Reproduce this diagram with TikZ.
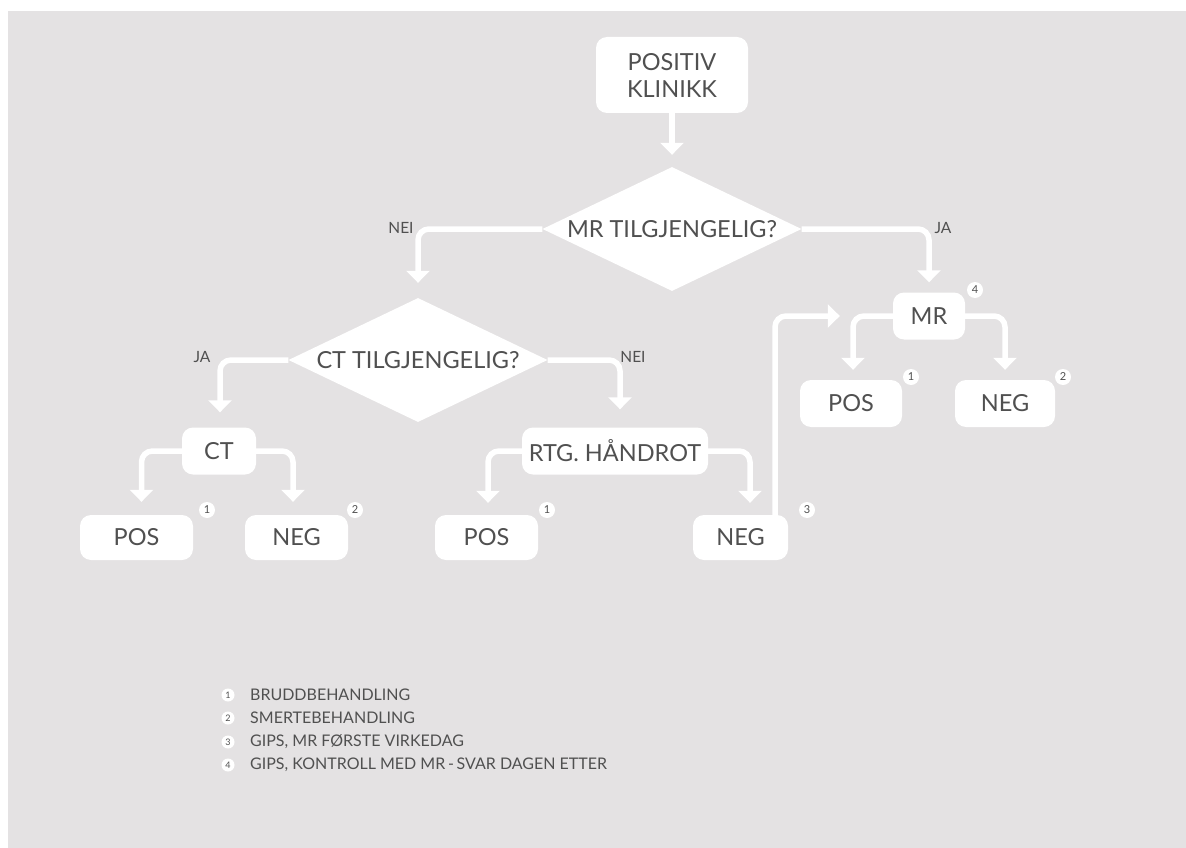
\documentclass[tikz,border=0pt]{standalone}
\usepackage{fontspec}
\setmainfont{Lato}
\usetikzlibrary{shapes.geometric,arrows.meta}
\definecolor{bg}{HTML}{E4E2E3}
\definecolor{ink}{HTML}{505050}
\begin{document}
\begin{tikzpicture}[x=1pt,y=-1pt,
  box/.style={fill=white, rounded corners=11pt, text=ink, font=\fontsize{23.5}{27}\selectfont, align=center, inner sep=0pt},
  dia/.style={diamond, fill=white, inner sep=0pt, minimum width=259pt, minimum height=124pt},
  dtext/.style={text=ink, font=\fontsize{23.5}{27}\selectfont, inner sep=0pt},
  lab/.style={text=ink, font=\fontsize{15.5}{17}\selectfont, inner sep=0pt},
  conn/.style={draw=white, line width=5.5pt, rounded corners=11pt, -{Triangle[width=23pt,length=12pt]}},
  num/.style={circle, fill=white, text=ink, inner sep=0pt, minimum size=16pt, font=\fontsize{11}{11}\selectfont},
  lnum/.style={circle, fill=white, text=ink, inner sep=0pt, minimum size=13pt, font=\fontsize{9}{9}\selectfont},
  legend/.style={text=ink, anchor=west, font=\fontsize{16}{18}\selectfont, inner sep=0pt}
]
\fill[white] (0,0) rectangle (1186,848);
\useasboundingbox (0,0) rectangle (1186,848);
\fill[bg] (8,11) rectangle (1186,848);

% boxes
\node[box, minimum width=152pt, minimum height=76pt] (pk) at (672,75) {POSITIV\\KLINIKK};
\node[dia] (mrd) at (672,229) {};
\node[dtext] (mrdt) at (mrd) {MR TILGJENGELIG?};
\node[dia] (ctd) at (418,360) {};
\node[dtext] (ctdt) at (ctd) {CT TILGJENGELIG?};
\node[box, minimum width=74pt, minimum height=47pt] (ct) at (219,451) {CT};
\node[box, minimum width=186pt, minimum height=47pt] (rtg) at (615,451) {RTG. HÅNDROT};
\node[box, minimum width=72pt, minimum height=47pt] (mr) at (929,316) {MR};
\node[box, minimum width=113pt, minimum height=45pt] (pos1) at (136.5,537.5) {POS};
\node[box, minimum width=103pt, minimum height=45pt] (neg1) at (296.5,537.5) {NEG};
\node[box, minimum width=103pt, minimum height=45pt] (pos2) at (486.5,537.5) {POS};
\node[box, minimum width=95pt, minimum height=45pt] (neg2) at (740.5,537.5) {NEG};
\node[box, minimum width=102pt, minimum height=47pt] (pos3) at (851,403.5) {POS};
\node[box, minimum width=100pt, minimum height=47pt] (neg3) at (1005,403.5) {NEG};

% connectors
\draw[conn, shorten >=12pt] (pk.south) -- (mrd.north);
\draw[conn] (mrd.west) -| ([yshift=15pt]ctd.north);
\draw[conn] (mrd.east) -| ([yshift=10pt]mr.north);
\draw[conn] (ctd.west) -| ([xshift=1pt,yshift=15pt]ct.north);
\draw[conn] (ctd.east) -| ([xshift=5pt,yshift=18pt]rtg.north);
\draw[conn] (ct.west) -| ([xshift=5pt,yshift=13pt]pos1.north);
\draw[conn] (ct.east) -| ([xshift=-3.5pt,yshift=13pt]neg1.north);
\draw[conn] (rtg.west) -| ([xshift=1.5pt,yshift=12pt]pos2.north);
\draw[conn] (rtg.east) -| ([xshift=9.5pt,yshift=12pt]neg2.north);
\draw[conn] (mr.west) -| ([xshift=2pt,yshift=10pt]pos3.north);
\draw[conn] (mr.east) -| ([yshift=10pt]neg3.north);
\draw[conn] ([xshift=34.5pt]neg2.north) |- ([xshift=-53pt]mr.west);

% branch labels
\node[lab] (l1) at (401,228) {NEI};
\node[lab] (l2) at (943,228) {JA};
\node[lab] (l3) at (202,357) {JA};
\node[lab] (l4) at (633,357) {NEI};

% footnote markers
\node[num] (n1a) at (207,510) {1};
\node[num] (n2a) at (355,510) {2};
\node[num] (n1b) at (547,510) {1};
\node[num] (n3)  at (807,510) {3};
\node[num] (n4)  at (975,290) {4};
\node[num] (n1c) at (911,377) {1};
\node[num] (n2c) at (1063,377) {2};

% legend
\node[lnum] (g1) at (228,695) {1};
\node[lnum] (g2) at (228,718) {2};
\node[lnum] (g3) at (228,742) {3};
\node[lnum] (g4) at (228,765) {4};
\node[legend] (t1) at (250,695) {BRUDDBEHANDLING};
\node[legend] (t2) at (250,718) {SMERTEBEHANDLING};
\node[legend] (t3) at (250,742) {GIPS, MR FØRSTE VIRKEDAG};
\node[legend] (t4) at (250,765) {GIPS, KONTROLL MED MR\,-\,SVAR DAGEN ETTER};
\end{tikzpicture}
\end{document}
